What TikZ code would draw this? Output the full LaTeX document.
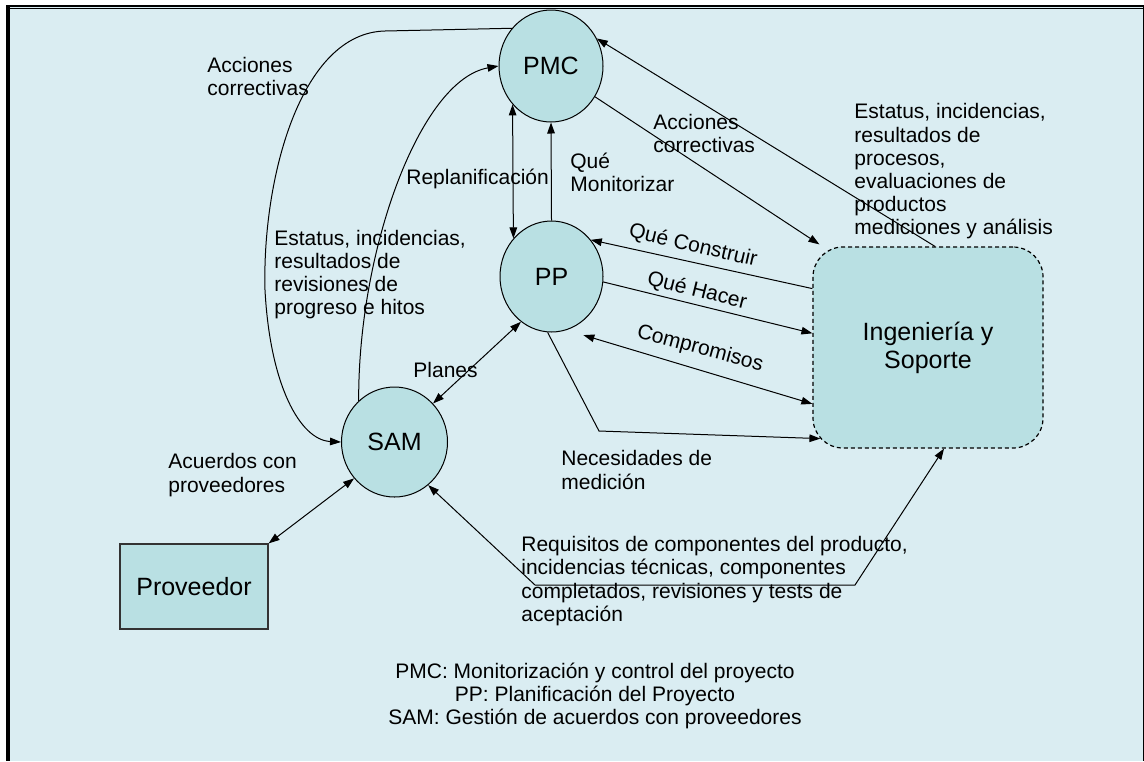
\documentclass[tikz,border=0pt]{standalone}
\usepackage{fontspec}
\setmainfont{Liberation Sans}
\usetikzlibrary{shapes.geometric,arrows.meta}
\definecolor{bgblue}{RGB}{218,237,242}
\definecolor{nodeteal}{RGB}{185,224,227}
\begin{document}
\begin{tikzpicture}[x=0.5pt,y=-0.5pt,
  >={Triangle[length=5.5pt,width=3.8pt]},
  proc/.style={ellipse,draw,line width=0.5pt,fill=nodeteal,inner sep=0pt,
    font=\fontsize{12.5}{14}\selectfont},
  lbl/.style={inner sep=0pt,align=left,font=\fontsize{10.5}{11.6}\selectfont},
  flow/.style={line width=0.5pt},
  ingbox/.style={rectangle,draw,line width=0.6pt,dash pattern=on 2pt off 1.5pt,
    rounded corners=15pt,fill=nodeteal,minimum width=115pt,minimum height=100.5pt,
    align=center,inner sep=0pt,font=\fontsize{12.5}{14}\selectfont},
  provbox/.style={rectangle,draw=black!80,line width=0.6pt,fill=nodeteal,
    minimum width=74pt,minimum height=42.5pt,inner sep=0pt,
    font=\fontsize{12.5}{14}\selectfont}
]
\useasboundingbox (0,0) rectangle (1144,761);

% frame and background
\fill[white] (0,0) rectangle (1144,761);
\fill[bgblue] (8,7) rectangle (1144,761);
\draw[line width=2pt] (8,5) -- (8,761);
\draw[line width=1.15pt] (6,6.2) -- (1144,6.2);
\draw[line width=0.5pt] (10,8.6) -- (1144,8.6);
\draw[line width=0.7pt] (1143.3,6) -- (1143.3,761);

% process areas
\node[proc,minimum width=52pt,minimum height=56pt] (PMC) at (551,66) {PMC};
\node[proc,minimum width=51.5pt,minimum height=55.5pt] (PP) at (551.5,276.5) {PP};
\node[proc,minimum width=53pt,minimum height=55pt] (SAM) at (394.5,442) {SAM};
\node[ingbox] (ing) at (928,347.5) {Ingeniería y\\Soporte};
\node[provbox] (prov) at (194,586.5) {Proveedor};

% bend points
\coordinate (nd) at (599,431);
\coordinate (rq1) at (535,585);
\coordinate (rq2) at (855,585);

% connectors
\draw[flow,->] (PMC.136) -- (385,31) .. controls (300,33) and (262,180) .. (265,290)
  .. controls (270,385) and (300,440) .. (SAM.180);
\draw[flow,->] (SAM.131) .. controls (358,250) and (420,80) .. (PMC.180);
\draw[flow,<->] (PMC.225) -- (PP.135);
\draw[flow,->] (PP.north) -- (PMC.south);
\draw[flow,->] ([xshift=3.5pt]ing.north) -- (PMC.31);
\draw[flow,->] (PMC.325) -- ([xshift=3.5pt,yshift=1pt]ing.north west);
\draw[flow,->] (ing.153) -- (PP.43);
\draw[flow,->] (PP.354) -- (ing.173);
\draw[flow,<->] ([xshift=3pt,yshift=-5pt]PP.298) -- (ing.206);
\draw[flow,->] (PP.266) -- (nd) -- ([xshift=4pt,yshift=5pt]ing.south west);
\draw[flow,<->] (PP.236) -- (SAM.45);
\draw[flow,<->] (SAM.222) -- (prov.north east);
\draw[flow,<->] (SAM.308) -- (rq1) -- (rq2) -- ([xshift=8pt]ing.south);

% labels
\node[lbl,anchor=west] (lacc1) at (207,76.5) {Acciones\\correctivas};
\node[lbl,anchor=west] (lest1) at (274,274.5) {Estatus, incidencias,\\resultados de\\revisiones de\\progreso e hitos};
\node[lbl,anchor=west] (lrepl) at (406,179) {Replanificación};
\node[lbl,anchor=west] (lmon) at (570,172.5) {Qué\\Monitorizar};
\node[lbl,anchor=west] (lacc2) at (653,133.5) {Acciones\\correctivas};
\node[lbl,anchor=west] (lest2) at (854,171.5) {Estatus, incidencias,\\resultados de\\procesos,\\evaluaciones de\\productos\\mediciones y análisis};
\node[lbl,rotate=-13] (lcons) at (693,246) {Qué Construir};
\node[lbl,rotate=-14] (lhac) at (697,291) {Qué Hacer};
\node[lbl,rotate=-15] (lcomp) at (700,349) {Compromisos};
\node[lbl,anchor=west] (lplan) at (413,370) {Planes};
\node[lbl,anchor=west] (lacu) at (168,475) {Acuerdos con\\proveedores};
\node[lbl,anchor=west] (lnec) at (561,470) {Necesidades de\\medición};
\node[lbl,anchor=west] (lreq) at (521,581) {Requisitos de componentes del producto,\\incidencias técnicas, componentes\\completados, revisiones y tests de\\aceptación};
\node[lbl,align=center] (legend) at (595,696) {PMC: Monitorización y control del proyecto\\PP: Planificación del Proyecto\\SAM: Gestión de acuerdos con proveedores};
\end{tikzpicture}
\end{document}
